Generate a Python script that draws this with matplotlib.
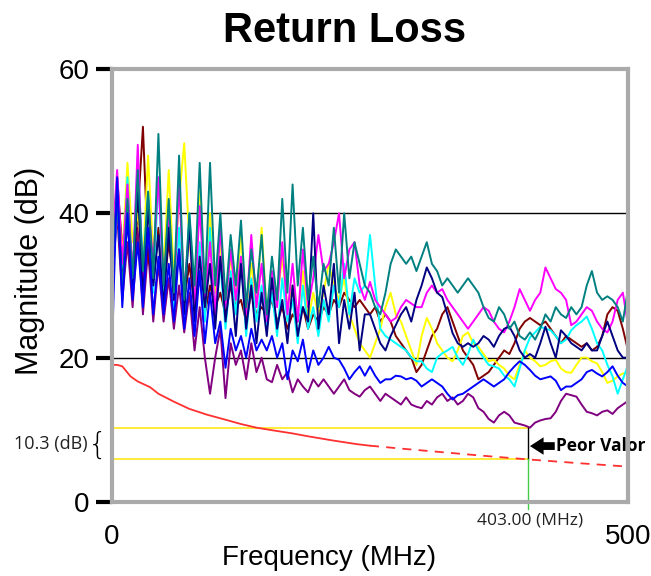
import matplotlib
matplotlib.use("Agg")
import matplotlib.pyplot as plt
import numpy as np

plt.rcParams['font.family'] = ['Liberation Sans', 'DejaVu Sans']

# frequency points (MHz), one every 5 MHz
freq = np.arange(0, 501, 5)

# return loss per pair (dB)
teal = [30, 44, 29, 42, 31, 46, 32, 43, 31, 51, 30, 42, 29, 48, 28, 40, 30, 47, 29, 47,
        30, 40, 28, 37, 30, 39, 27, 35, 29, 37, 26, 34, 28, 42, 29, 44, 30, 38, 28, 34,
        27, 33, 30, 38, 29, 40, 31, 36, 33, 30, 29, 27, 26, 29, 33, 35, 34, 33, 34, 32,
        34, 36, 33, 32, 30, 31, 30, 29, 30, 31, 30, 29, 27, 25.5, 25, 27, 26, 24, 25, 23,
        22.5, 23.5, 22.5, 24, 26, 25, 27, 26, 25.5, 27, 26, 27, 30, 32, 29, 28, 28.5, 28, 27, 25,
        29.5]
magenta = [35, 46, 33, 44, 31, 49.5, 30, 42, 33, 45, 30, 40, 28, 44, 29, 38, 27, 41, 28, 36,
           26, 38, 27, 35, 28, 34, 26, 37, 27, 33, 25, 32, 27, 36, 26, 33, 25, 35, 27, 31,
           37, 32, 33, 36, 40, 31, 35, 36, 30, 28, 30.5, 28, 27, 26, 25, 25.5, 27, 28, 27.5, 27,
           27, 29, 30, 29, 29.5, 28, 27, 26, 25, 24, 25, 26, 27, 26.5, 25, 24, 23.5, 25, 27, 29.5,
           28, 26.5, 28, 29, 32.5, 31, 29.5, 29, 28, 24.5, 25, 26, 27, 26.5, 25, 24, 23.5, 25, 28, 29,
           24.5]
yellow = [38, 43, 34, 47, 36, 40, 33, 48, 34, 44, 32, 46, 31, 42, 49.7, 36, 29, 43, 28, 40,
          29, 36, 27, 34, 28, 37, 26, 33, 27, 38, 26, 31, 28, 34, 27, 30, 26, 32, 25, 29,
          26, 29, 33, 30, 28, 31, 26, 24, 22, 21, 20, 22, 24, 27, 29, 26, 25, 23, 21, 19,
          23, 25.5, 24, 22, 21, 20, 19.5, 21, 23, 23.5, 22, 21.5, 20.5, 19.5, 19.7, 19, 18.5, 17.5, 17, 19,
          21, 20, 19.5, 18.8, 19, 19.5, 19.7, 18.5, 18, 17.9, 19, 20, 20, 19.5, 19.2, 18, 16.5, 16.8, 17.4, 17.8,
          18]
cyan = [28, 42, 31, 45, 30, 48, 32, 43, 29, 45, 28, 41, 27, 38, 26, 40, 27, 36, 25, 38,
        25, 33, 24, 32, 26, 34, 23, 31, 25, 30, 24, 29, 23, 31, 25, 28, 22, 30, 24, 27,
        23, 28, 25, 30, 27, 33, 26, 31, 29, 30, 37, 30, 24, 23, 22.5, 22, 21.5, 21, 20, 19.5,
        19.5, 18.5, 18, 20, 20.6, 21, 21.5, 20, 19, 20.5, 22.5, 21, 20, 19, 18.8, 18.5, 17.5, 17, 16, 18.5,
        21, 22.8, 23.5, 24.3, 24, 23.8, 23, 22, 22.5, 23.8, 24.5, 25, 25.7, 24, 22, 21, 19, 17.4, 15, 17,
        19]
blue = [21, 45, 27, 40, 28, 36, 27, 38, 26, 34, 26, 33, 25, 35, 24, 31, 23, 32, 22, 29,
        22, 25, 18.6, 24, 21, 23, 20, 24, 21, 22.5, 21, 23, 20, 22, 17, 21, 19.5, 22.5, 18, 21,
        19, 20, 21.5, 20, 19.7, 18.5, 17, 18, 18.8, 17.5, 18.8, 17.5, 16.5, 17, 17, 17.5, 17.4, 17, 17.2, 16.8,
        16, 16.5, 17, 16.5, 16, 15, 14.2, 14.8, 15, 15.5, 16, 16.5, 17, 16.5, 16, 16.5, 17, 18, 18.8, 19.5,
        19, 18.3, 17.5, 17, 17.2, 17.4, 16.8, 15.5, 16, 16, 16.5, 17, 18, 18.3, 17.8, 17.4, 18, 18.8, 17.5, 16.5,
        16]
purple = [30, 40, 28, 36, 27, 38, 26, 35, 25, 33, 25, 31, 24, 30, 23.5, 29, 21, 27, 20, 15,
          20, 24, 14.4, 22, 19, 21, 17, 22, 18, 20, 17, 16.6, 19, 17, 18, 15.2, 17, 16, 15.2, 17,
          16, 17, 16, 15, 16, 17, 15.5, 15, 14.6, 15.5, 16, 15, 14, 15, 14.5, 14, 13.5, 14.5, 13.5, 13.2,
          13, 14, 13.5, 14.5, 15, 14, 14.5, 13.5, 14, 15, 14.5, 13, 12.5, 11.5, 11, 12, 12.5, 12, 11, 10.8,
          10.6, 10.3, 11, 11.3, 11.5, 11.6, 12.5, 14, 15, 14.8, 14.6, 13.5, 12.5, 12.3, 12, 12.5, 12.7, 12.2, 13, 13.5,
          14]
maroon = [33, 45, 35, 42, 32, 40, 52, 34, 30, 38, 29, 36, 30, 34, 28, 33, 27, 31, 26, 30,
          27, 29, 26, 30, 27, 28, 25, 29, 26, 27, 26, 28, 25, 27, 24, 26, 25, 27, 24, 26,
          25, 27, 26, 28, 27, 29, 28, 27, 28, 27, 26, 27, 25, 26, 25, 23, 22, 21, 20, 18,
          19, 21, 23, 24, 26, 27, 25, 23, 21, 20, 19, 17, 17.5, 18, 19, 20, 21, 20.5, 22, 24,
          25, 25.5, 25, 24.5, 25, 24, 23, 22, 23, 22.5, 22, 21.5, 22, 21, 21.5, 23, 26, 27, 26.5, 24,
          21]
navy = [31, 43, 30, 39, 29, 44, 28, 41, 30, 37, 27, 38, 28, 35, 26, 39, 25, 34, 27, 33,
        24, 34, 25, 31, 23, 33, 24, 30, 22, 29, 23, 31, 24, 28, 22, 30, 23, 27, 25, 40,
        24, 30, 26, 33, 22, 28, 24, 29, 21, 26, 26, 24, 22, 21, 23, 24.5, 26, 27, 25, 28,
        30, 32.5, 31, 29, 28.4, 26, 23.4, 22, 21.5, 22, 21.5, 22, 23, 22.5, 21.5, 23, 24, 24.3, 23, 21,
        20, 20.5, 20, 22, 24.3, 22, 20, 23.8, 23, 22, 21.5, 21, 22, 21, 21, 23, 25, 23, 21, 20,
        20]

# limit line (dB), solid part then dashed part
lim_f_solid = [0, 5, 10, 18, 25, 37, 45, 60, 75, 92, 110, 125, 140, 157, 175, 190, 215, 238, 250]
lim_db_solid = [19.0, 19.0, 18.8, 17.4, 16.7, 15.9, 15.0, 13.9, 12.9, 12.1, 11.4, 10.8, 10.3, 9.9,
                9.5, 9.1, 8.5, 8.0, 7.8]
lim_f_dash = [250, 280, 320, 360, 403, 450, 500]
lim_db_dash = [7.8, 7.4, 6.9, 6.4, 5.9, 5.4, 4.9]

worst_f = 403.0
worst_db = 10.3
limit_at_worst = 5.9

traces = [(purple, '#800080'), (maroon, '#800000'), (yellow, '#ffff00'), (cyan, '#00ffff'),
          (magenta, '#ff00ff'), (navy, '#000080'), (teal, '#008080'), (blue, '#0000ff')]

fig = plt.figure(figsize=(6.51, 5.76), dpi=100)
ax = fig.add_axes([0.172, 0.1285, 0.7927, 0.7517])

for vals, col in traces:
    ax.plot(freq, vals, color=col, lw=1.4, zorder=3)

for g in (20, 40):
    ax.axhline(g, color='black', lw=1.0, zorder=1)

ax.plot(lim_f_solid, lim_db_solid, color='#ff3030', lw=1.3, zorder=4)
ax.plot(lim_f_dash, lim_db_dash, color='#ff3030', lw=1.3, ls=(0, (5, 4)), zorder=4)

ax.plot([0, worst_f], [worst_db, worst_db], color='#ffe81a', lw=1.2, zorder=2)
ax.plot([0, worst_f], [limit_at_worst, limit_at_worst], color='#ffe81a', lw=1.2, zorder=2)
ax.plot([worst_f, worst_f], [limit_at_worst, worst_db], color='black', lw=1.0, zorder=5)
ax.plot([worst_f, worst_f], [-1.0, limit_at_worst], color='#44cc44', lw=1.0, zorder=5,
        clip_on=False)

ax.text(worst_f + 2, -1.5, '%.2f (MHz)' % worst_f, ha='center', va='top', fontsize=12.5,
        family='Open Sans', color='#222222', clip_on=False)
# "worst value" pointer
ax.annotate('', xy=(worst_f + 2, 7.75), xytext=(worst_f + 26, 7.75),
            arrowprops=dict(arrowstyle='simple,head_length=0.7,head_width=0.9,tail_width=0.4',
                            color='black', lw=0, mutation_scale=14,
                            shrinkA=0, shrinkB=0), zorder=6)
ax.text(worst_f + 27.5, 7.75, 'Peor Valor', ha='left', va='center', fontsize=12.5,
        fontweight='bold', family='Open Sans', clip_on=False)

mid = (worst_db + limit_at_worst) / 2
ax.text(-5, mid - 0.2, '{', ha='right', va='center', fontsize=22, family='DejaVu Sans',
        fontweight='light', clip_on=False)
ax.text(-24, mid, '%.1f (dB)' % worst_db, ha='right', va='center', fontsize=13,
        family='Open Sans', color='#222222', clip_on=False)

ax.set_xlim(0, 500)
ax.set_ylim(0, 60)
ax.set_xticks([0, 500])
ax.set_yticks([0, 20, 40, 60])
ax.tick_params(axis='y', length=11.5, width=3, color='black', labelsize=20, pad=5)
ax.tick_params(axis='x', length=0, labelsize=20, pad=16)
for s in ax.spines.values():
    s.set_color('#aaaaaa')
    s.set_linewidth(3)
    s.set_zorder(7)

fig.text(0.529, 0.947, 'Return Loss', ha='center', va='center', fontsize=30, fontweight='bold')
fig.text(0.505, 0.031, 'Frequency (MHz)', ha='center', va='center', fontsize=20)
fig.text(0.046, 0.53, 'Magnitude (dB)', ha='center', va='center', fontsize=22, rotation=90)

fig.savefig('out.png', dpi=100)
